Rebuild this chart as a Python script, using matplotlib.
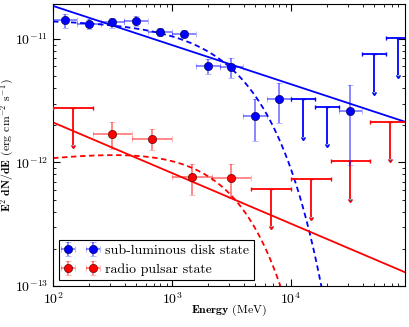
import numpy as np
import matplotlib
matplotlib.use("Agg")
import matplotlib.pyplot as plt

plt.rcParams["font.family"] = "cmr10"
plt.rcParams["mathtext.fontset"] = "cm"
plt.rcParams["axes.formatter.use_mathtext"] = True
plt.rcParams["axes.unicode_minus"] = False

# sub-luminous disk state (bins of 0.2 dex)
disk_E = [126, 200, 316, 501, 794, 1259, 1995, 3162, 5012, 7943, 31623]
disk_flux = [1.41e-11, 1.33e-11, 1.36e-11, 1.40e-11, 1.14e-11, 1.10e-11,
             6.03e-12, 5.89e-12, 2.37e-12, 3.24e-12, 2.60e-12]
disk_err = [1.8e-12, 1.2e-12, 1.3e-12, 1.2e-12, 0.8e-12, 0.7e-12,
            0.85e-12, 1.1e-12, 0.88e-12, 1.16e-12, 1.65e-12]
disk_ul_E = [12589, 19953, 50119, 79433]
disk_ul = [3.24e-12, 2.80e-12, 7.5e-12, 1.02e-11]
disk_bin = 0.2

# radio pulsar state (bins of 1/3 dex)
psr_E = [316, 681, 1468, 3162]
psr_flux = [1.71e-12, 1.55e-12, 7.6e-13, 7.5e-13]
psr_err = [4.3e-13, 3.0e-13, 2.1e-13, 2.3e-13]
psr_ul_E = [147, 6813, 14678, 31623, 68129]
psr_ul = [2.75e-12, 6.15e-13, 7.28e-13, 1.02e-12, 2.12e-12]
psr_bin = 1.0 / 3

# model curves: norm at 100 MeV, slope, cutoff energy
disk_pl = (1.85e-11, -0.317)
disk_co = (1.383e-11, -0.014, 3684.0)
psr_pl = (2.11e-12, -0.41)
psr_co = (1.084e-12, 0.116, 2781.0)

x_ticks = [1e2, 1e3, 1e4]
y_ticks = [1e-13, 1e-12, 1e-11]


def xerrs(E, width):
    E = np.array(E, dtype=float)
    lo = E - E * 10 ** (-width / 2)
    hi = E * 10 ** (width / 2) - E
    return [lo, hi]


fig = plt.figure(figsize=(4.09, 3.27), dpi=100)
ax = fig.add_axes([0.1296, 0.1254, 0.8594, 0.8635])
ax.set_xscale("log")
ax.set_yscale("log")

E = np.logspace(2, 5, 400)
ax.plot(E, disk_pl[0] * (E / 100) ** disk_pl[1], color="blue", lw=1.3)
ax.plot(E, disk_co[0] * (E / 100) ** disk_co[1] * np.exp(-(E - 100) / disk_co[2]),
        color="blue", lw=1.3, ls="--", dashes=(3, 2))
ax.plot(E, psr_pl[0] * (E / 100) ** psr_pl[1], color="red", lw=1.3)
ax.plot(E, psr_co[0] * (E / 100) ** psr_co[1] * np.exp(-(E - 100) / psr_co[2]),
        color="red", lw=1.3, ls="--", dashes=(3, 2))

for col, pE, pF, pErr, uE, uF, w, lab in [
        ("blue", disk_E, disk_flux, disk_err, disk_ul_E, disk_ul, disk_bin,
         "sub-luminous disk state"),
        ("red", psr_E, psr_flux, psr_err, psr_ul_E, psr_ul, psr_bin,
         "radio pulsar state")]:
    light = matplotlib.colors.to_rgba(col, 0.5)
    ax.errorbar(pE, pF, yerr=pErr, xerr=xerrs(pE, w), fmt="o", color=col,
                ecolor=light, mec="#000040" if col == "blue" else "#400000",
                mew=0.4, ms=6, elinewidth=1.3, capsize=2, capthick=1.0,
                label=lab, zorder=5)
    uF = np.array(uF)
    ax.errorbar(uE, uF, yerr=uF / 2, xerr=xerrs(uE, w), fmt="none",
                ecolor=col, elinewidth=1.3, capsize=1.5, capthick=1.0,
                uplims=True, zorder=4)

ax.set_xlim(100, 9e4)
ax.set_ylim(1e-13, 1.93e-11)
ax.set_xticks(x_ticks)
ax.set_yticks(y_ticks)
ax.tick_params(which="both", direction="in", top=True, right=True,
               labelsize=10)
ax.tick_params(which="major", length=5)
ax.tick_params(which="minor", length=2.5)

ax.set_xlabel(r"$\mathbf{Energy}$ (MeV)", fontsize=8.5)
ax.xaxis.set_label_coords(0.5, -0.058)
ax.set_ylabel(r"$\mathbf{E^2\ dN/dE}$ (erg cm$^{-2}$ s$^{-1}$)", fontsize=8.5)
ax.yaxis.set_label_coords(-0.104, 0.5)

leg = ax.legend(loc="lower left", numpoints=2, fontsize=10, fancybox=False,
                edgecolor="black", framealpha=1, borderaxespad=0.4,
                handlelength=2.4, handletextpad=0.6, borderpad=0.35,
                labelspacing=0.4)
leg.get_frame().set_linewidth(0.8)

fig.savefig("out.png", dpi=100)
